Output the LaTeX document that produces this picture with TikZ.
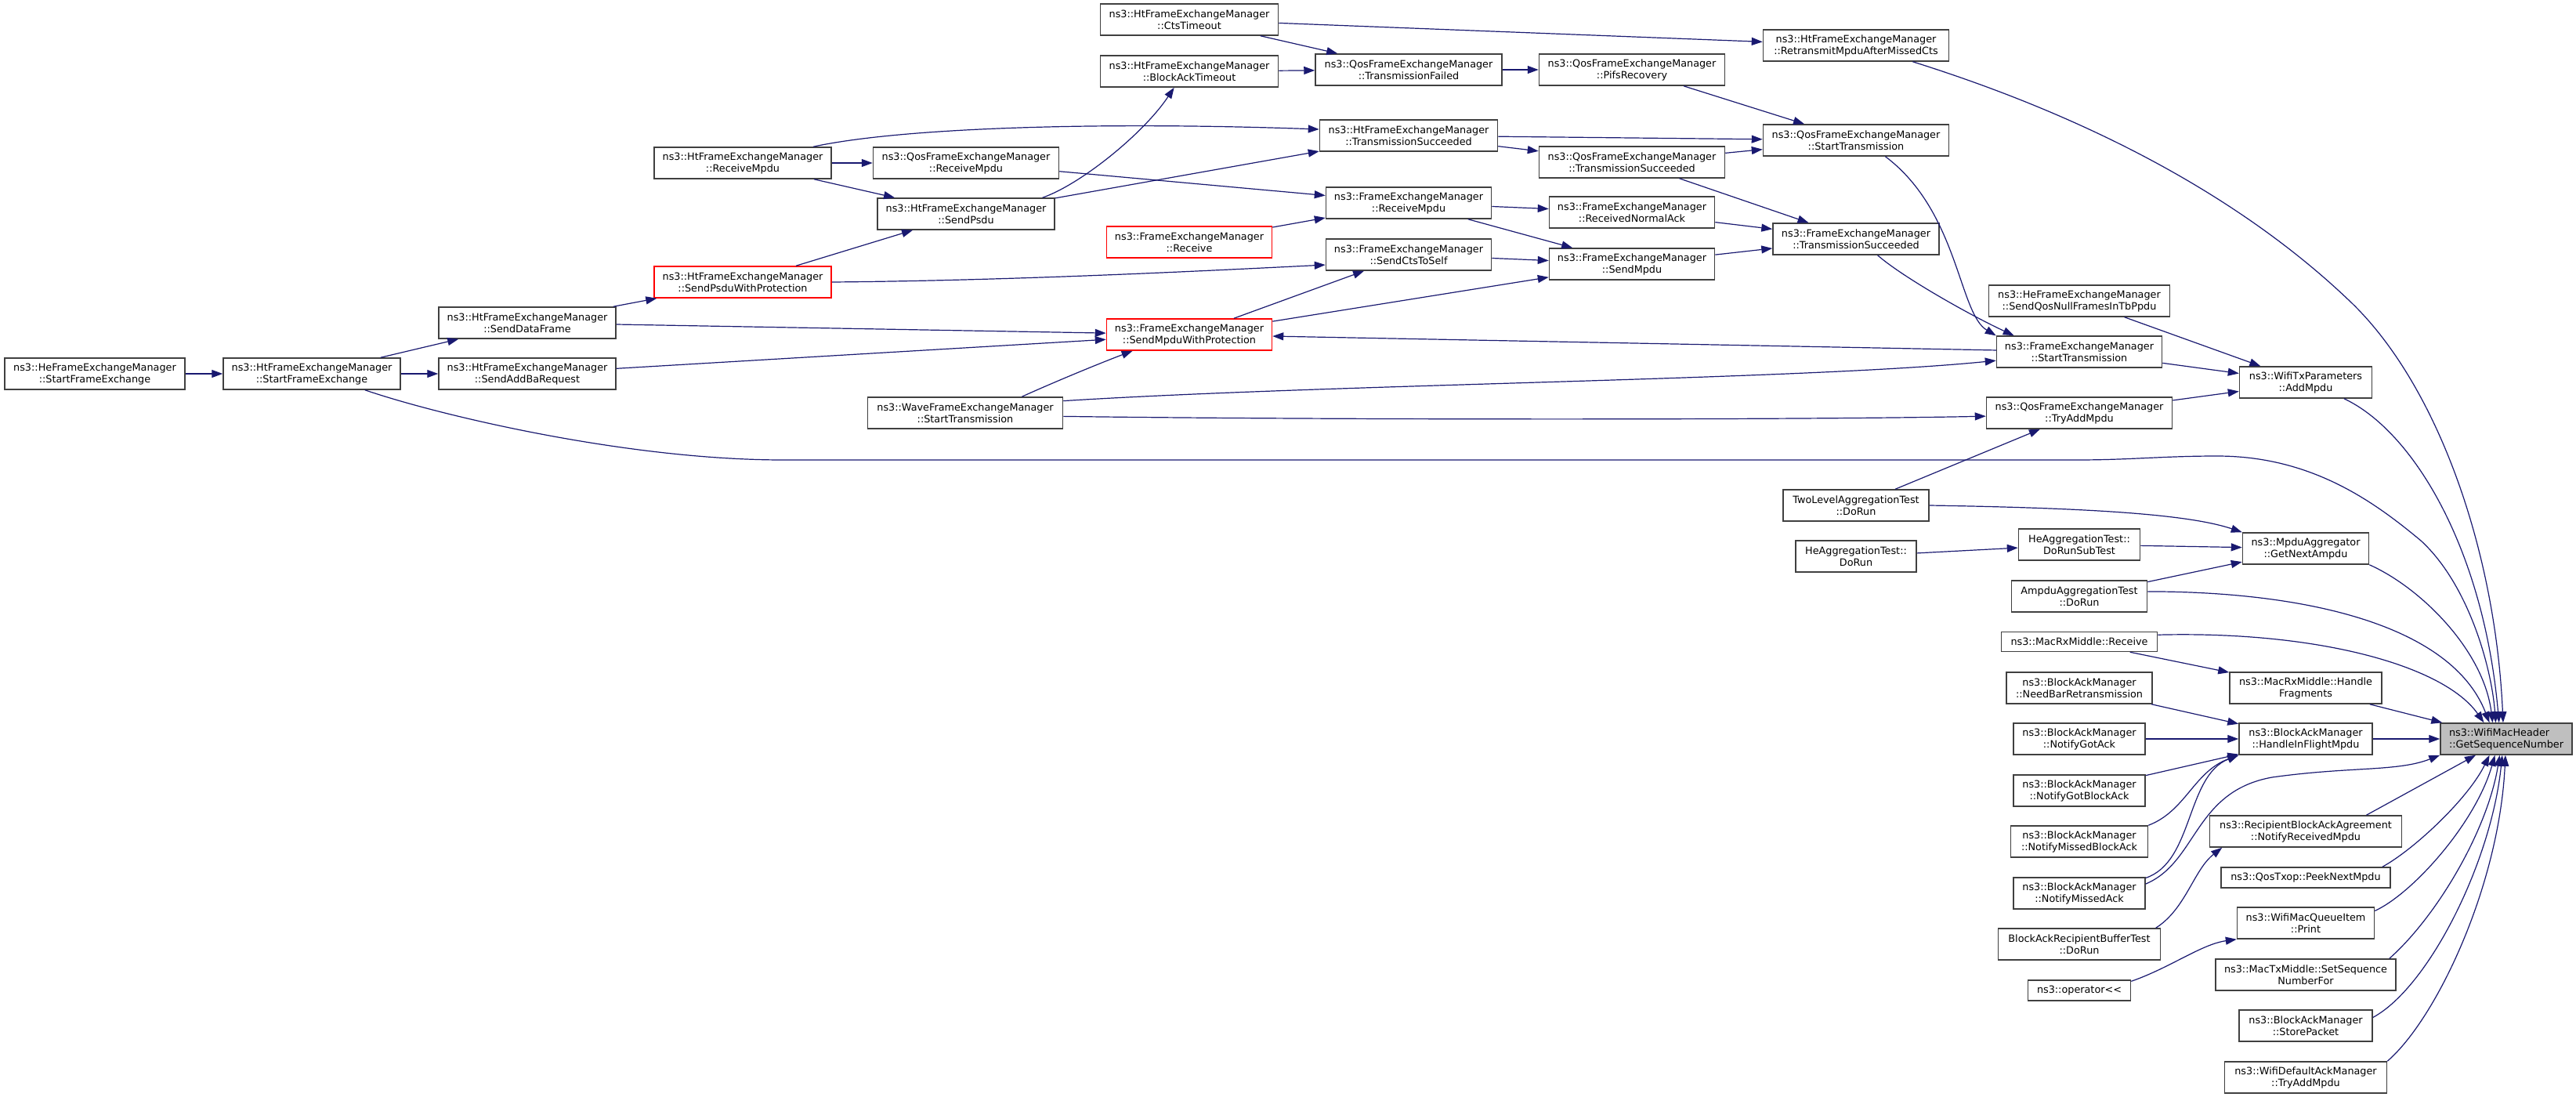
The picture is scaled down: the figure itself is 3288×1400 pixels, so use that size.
\documentclass[tikz,border=0pt]{standalone}
\usepackage{fontspec}
\setmainfont{DejaVu Sans}
\usetikzlibrary{arrows.meta}
\definecolor{edgeblue}{RGB}{25,25,112}
\definecolor{boxgrey}{RGB}{64,64,64}
\definecolor{rootfill}{RGB}{191,191,191}
\tikzset{fnbox/.style={draw=boxgrey, line width=1.5pt, fill=white, align=center,
  inner sep=0pt, minimum height=40pt, font=\fontsize{12.8}{15}\selectfont}}
\tikzset{trunc/.style={fnbox, draw=red}}
\tikzset{rootfn/.style={fnbox, fill=rootfill, align=left}}
\tikzset{callarr/.style={draw=edgeblue, line width=1.2pt,
  -{Triangle[length=14pt,width=10pt,fill=edgeblue]}}}

\begin{document}
\begin{tikzpicture}[x=1pt, y=-1pt]
      \useasboundingbox (0,0) rectangle (3288,1400);

      \node [fnbox, minimum width=230pt] (heSFE) at (121,477) {ns3::HeFrameExchangeManager\\::StartFrameExchange};
      \node [fnbox, minimum width=226pt] (htSFE) at (398,477) {ns3::HtFrameExchangeManager\\::StartFrameExchange};
      \node [fnbox, minimum width=226pt] (htSDF) at (673,412) {ns3::HtFrameExchangeManager\\::SendDataFrame};
      \node [fnbox, minimum width=226pt] (htSABR) at (673,477) {ns3::HtFrameExchangeManager\\::SendAddBaRequest};
      \node [trunc, minimum width=226pt] (htSPWP) at (948,360) {ns3::HtFrameExchangeManager\\::SendPsduWithProtection};
      \node [fnbox, minimum width=226pt] (htRM) at (948,208) {ns3::HtFrameExchangeManager\\::ReceiveMpdu};

      \node [fnbox, minimum width=237pt] (qosRM) at (1233,208) {ns3::QosFrameExchangeManager\\::ReceiveMpdu};
      \node [fnbox, minimum width=226pt] (htSP) at (1233,273) {ns3::HtFrameExchangeManager\\::SendPsdu};
      \node [fnbox, minimum width=249pt] (waveST) at (1232,527) {ns3::WaveFrameExchangeManager\\::StartTransmission};
      \node [fnbox, minimum width=227pt] (htCTO) at (1518,25) {ns3::HtFrameExchangeManager\\::CtsTimeout};
      \node [fnbox, minimum width=227pt] (htBAT) at (1518,91) {ns3::HtFrameExchangeManager\\::BlockAckTimeout};
      \node [trunc, minimum width=211pt] (femRcv) at (1518,309) {ns3::FrameExchangeManager\\::Receive};
      \node [trunc, minimum width=211pt] (femSMWP) at (1518,427) {ns3::FrameExchangeManager\\::SendMpduWithProtection};

      \node [fnbox, minimum width=238pt] (qosTF) at (1798,89) {ns3::QosFrameExchangeManager\\::TransmissionFailed};
      \node [fnbox, minimum width=227pt] (htTS) at (1798,173) {ns3::HtFrameExchangeManager\\::TransmissionSucceeded};
      \node [fnbox, minimum width=211pt] (femRM) at (1798,259) {ns3::FrameExchangeManager\\::ReceiveMpdu};
      \node [fnbox, minimum width=211pt] (femSCTS) at (1798,325) {ns3::FrameExchangeManager\\::SendCtsToSelf};
      \node [fnbox, minimum width=237pt] (qosPR) at (2083,89) {ns3::QosFrameExchangeManager\\::PifsRecovery};
      \node [fnbox, minimum width=237pt] (qosTS) at (2083,207) {ns3::QosFrameExchangeManager\\::TransmissionSucceeded};
      \node [fnbox, minimum width=211pt] (femRNA) at (2083,271) {ns3::FrameExchangeManager\\::ReceivedNormalAck};
      \node [fnbox, minimum width=211pt] (femSM) at (2083,337) {ns3::FrameExchangeManager\\::SendMpdu};

      \node [fnbox, minimum width=237pt] (htRMAMC) at (2369,58) {ns3::HtFrameExchangeManager\\::RetransmitMpduAfterMissedCts};
      \node [fnbox, minimum width=237pt] (qosST) at (2369,179) {ns3::QosFrameExchangeManager\\::StartTransmission};
      \node [fnbox, minimum width=212pt] (femTS) at (2369,305) {ns3::FrameExchangeManager\\::TransmissionSucceeded};
      \node [fnbox, minimum width=186pt] (tlDoRun) at (2369,645) {TwoLevelAggregationTest\\::DoRun};
      \node [fnbox, minimum width=154pt] (heaDoRun) at (2369,710) {HeAggregationTest::\\DoRun};

      \node [fnbox, minimum width=231pt] (heSQNF) at (2654,384) {ns3::HeFrameExchangeManager\\::SendQosNullFramesInTbPpdu};
      \node [fnbox, minimum width=211pt] (femST) at (2654,449) {ns3::FrameExchangeManager\\::StartTransmission};
      \node [fnbox, minimum width=237pt] (qosTAM) at (2654,527) {ns3::QosFrameExchangeManager\\::TryAddMpdu};
      \node [fnbox, minimum width=155pt] (heaSub) at (2654,695) {HeAggregationTest::\\DoRunSubTest};
      \node [fnbox, minimum width=173pt] (ampduDoRun) at (2654,761) {AmpduAggregationTest\\::DoRun};
      \node [fnbox, minimum width=199pt, minimum height=25pt] (rxRcv) at (2654,819) {ns3::MacRxMiddle::Receive};
      \node [fnbox, minimum width=186pt] (baNBR) at (2654,878) {ns3::BlockAckManager\\::NeedBarRetransmission};
      \node [fnbox, minimum width=168pt] (baNGA) at (2654,943) {ns3::BlockAckManager\\::NotifyGotAck};
      \node [fnbox, minimum width=168pt] (baNGBA) at (2654,1009) {ns3::BlockAckManager\\::NotifyGotBlockAck};
      \node [fnbox, minimum width=175pt] (baNMBA) at (2654,1074) {ns3::BlockAckManager\\::NotifyMissedBlockAck};
      \node [fnbox, minimum width=168pt] (baNMA) at (2654,1140) {ns3::BlockAckManager\\::NotifyMissedAck};
      \node [fnbox, minimum width=207pt] (barbDoRun) at (2654,1205) {BlockAckRecipientBufferTest\\::DoRun};
      \node [fnbox, minimum width=131pt, minimum height=26pt] (opOut) at (2654,1264) {ns3::operator<{}<};

      \node [fnbox, minimum width=169pt] (txpAM) at (2943,488) {ns3::WifiTxParameters\\::AddMpdu};
      \node [fnbox, minimum width=161pt] (maGNA) at (2943,700) {ns3::MpduAggregator\\::GetNextAmpdu};
      \node [fnbox, minimum width=194pt] (rxHF) at (2943,878) {ns3::MacRxMiddle::Handle\\Fragments};
      \node [fnbox, minimum width=170pt] (baHIFM) at (2943,943) {ns3::BlockAckManager\\::HandleInFlightMpdu};
      \node [fnbox, minimum width=245pt] (rbaNRM) at (2943,1061) {ns3::RecipientBlockAckAgreement\\::NotifyReceivedMpdu};
      \node [fnbox, minimum width=216pt, minimum height=26pt] (qtPNM) at (2943,1120) {ns3::QosTxop::PeekNextMpdu};
      \node [fnbox, minimum width=175pt] (mqiPrint) at (2943,1178) {ns3::WifiMacQueueItem\\::Print};
      \node [fnbox, minimum width=230pt] (txSSNF) at (2943,1244) {ns3::MacTxMiddle::SetSequence\\NumberFor};
      \node [fnbox, minimum width=170pt] (baSP) at (2943,1309) {ns3::BlockAckManager\\::StorePacket};
      \node [fnbox, minimum width=207pt] (damTAM) at (2943,1375) {ns3::WifiDefaultAckManager\\::TryAddMpdu};

      \node [rootfn, minimum width=168pt] (gsn) at (3199,943) {ns3::WifiMacHeader\\::GetSequenceNumber};

      \draw [callarr] (heSFE) -- (htSFE);
      \draw [callarr] (htSFE) -- (htSDF);
      \draw [callarr] (htSFE) -- (htSABR);
      \draw [callarr] (htSFE.-17) .. controls (560,530) and (800,587) .. (1000,587) -- (2650,587)
        .. controls (2720,587) and (2760,582) .. (2830,582) .. controls (2950,582) and (3030,640) .. (3090,690)
        .. controls (3150,745) and (3180,850) .. (gsn.123);
      \draw [callarr] (htSDF) -- (htSPWP);
      \draw [callarr] (htSDF) -- (femSMWP);
      \draw [callarr] (htSABR) -- (femSMWP);
      \draw [callarr] (htSPWP) -- (htSP);
      \draw [callarr] (htSPWP.east) .. controls (1300,358) and (1550,345) .. (femSCTS.-173);
      \draw [callarr] (htRM) -- (qosRM);
      \draw [callarr] (htRM) -- (htSP);
      \draw [callarr] (htRM.13) .. controls (1150,163) and (1400,155) .. (htTS.176);
      \draw [callarr] (qosRM) -- (femRM);
      \draw [callarr] (htSP.12) .. controls (1380,235) and (1460,170) .. (htBAT.-133);
      \draw [callarr] (htSP) -- (htTS);
      \draw [callarr] (femRcv) -- (femRM);
      \draw [callarr] (femSMWP) -- (femSCTS);
      \draw [callarr] (femSMWP) -- (femSM);
      \draw [callarr] (waveST.16) .. controls (1340,490) and (1400,465) .. (femSMWP.-164);
      \draw [callarr] (waveST.7) .. controls (1700,490) and (2300,485) .. (femST.-174);
      \draw [callarr] (waveST.-2) .. controls (1700,536) and (2300,536) .. (qosTAM.-178);

      \draw [callarr] (htCTO) -- (qosTF);
      \draw [callarr] (htCTO) -- (htRMAMC);
      \draw [callarr] (htBAT) -- (qosTF);
      \draw [callarr] (qosTF) -- (qosPR);
      \draw [callarr] (qosPR) -- (qosST);
      \draw [callarr] (htTS) -- (qosST);
      \draw [callarr] (htTS) -- (qosTS);
      \draw [callarr] (qosTS) -- (qosST);
      \draw [callarr] (qosTS) -- (femTS);
      \draw [callarr] (femRM) -- (femRNA);
      \draw [callarr] (femRM) -- (femSM);
      \draw [callarr] (femSCTS) -- (femSM);
      \draw [callarr] (femRNA) -- (femTS);
      \draw [callarr] (femSM) -- (femTS);
      \draw [callarr] (femTS.-37) .. controls (2430,355) and (2520,405) .. (femST.166);
      \draw [callarr] (qosST.-29) .. controls (2500,270) and (2500,400) .. (femST.169);
      \draw [callarr] (femST) -- (femSMWP);
      \draw [callarr] (femST) -- (txpAM);
      \draw [callarr] (heSQNF) -- (txpAM);
      \draw [callarr] (qosTAM) -- (txpAM);

      \draw [callarr] (tlDoRun) -- (qosTAM);
      \draw [callarr] (tlDoRun.east) .. controls (2650,648) and (2790,655) .. (maGNA.north west);
      \draw [callarr] (heaDoRun) -- (heaSub);
      \draw [callarr] (heaSub) -- (maGNA);
      \draw [callarr] (ampduDoRun) -- (maGNA);
      \draw [callarr] (ampduDoRun.4) .. controls (2950,755) and (3130,800) .. (gsn.136);
      \draw [callarr] (rxRcv) -- (rxHF);
      \draw [callarr] (rxRcv.5) .. controls (2960,805) and (3120,850) .. (gsn.144);
      \draw [callarr] (rxHF) -- (gsn);
      \draw [callarr] (baNBR) -- (baHIFM);
      \draw [callarr] (baNGA) -- (baHIFM);
      \draw [callarr] (baNGBA) -- (baHIFM);
      \draw [callarr] (baNMBA.north east) .. controls (2790,1035) and (2800,985) .. (baHIFM.south west);
      \draw [callarr] (baNMA.13) .. controls (2800,1100) and (2790,990) .. (baHIFM.south west);
      \draw [callarr] (baNMA.8) .. controls (2805,1100) and (2800,1010) .. (2900,992)
        .. controls (3000,978) and (3060,985) .. (gsn.south west);
      \draw [callarr] (rbaNRM.15) -- (gsn.-152);
      \draw [callarr] (barbDoRun.12) .. controls (2790,1160) and (2800,1110) .. (rbaNRM.-169);
      \draw [callarr] (qtPNM.8) .. controls (3080,1085) and (3150,1020) .. (gsn.-136);
      \draw [callarr] (mqiPrint.10) .. controls (3080,1140) and (3160,1050) .. (gsn.-125);
      \draw [callarr] (opOut.10) .. controls (2770,1235) and (2810,1205) .. (mqiPrint.south west);
      \draw [callarr] (txSSNF.11) .. controls (3110,1170) and (3175,1060) .. (gsn.-112);
      \draw [callarr] (baSP.7) .. controls (3100,1260) and (3180,1100) .. (gsn.-104);
      \draw [callarr] (damTAM.north east) .. controls (3110,1300) and (3190,1130) .. (gsn.-93);
      \draw [callarr] (baHIFM) -- (gsn);
      \draw [callarr] (maGNA.south east) .. controls (3090,750) and (3170,830) .. (gsn.130);
      \draw [callarr] (txpAM.-23) .. controls (3080,550) and (3170,700) .. (gsn.114);
      \draw [callarr] (htRMAMC.-16) .. controls (2700,160) and (2880,270) .. (3000,385)
        .. controls (3110,490) and (3185,700) .. (gsn.101);
    \end{tikzpicture}
\end{document}
